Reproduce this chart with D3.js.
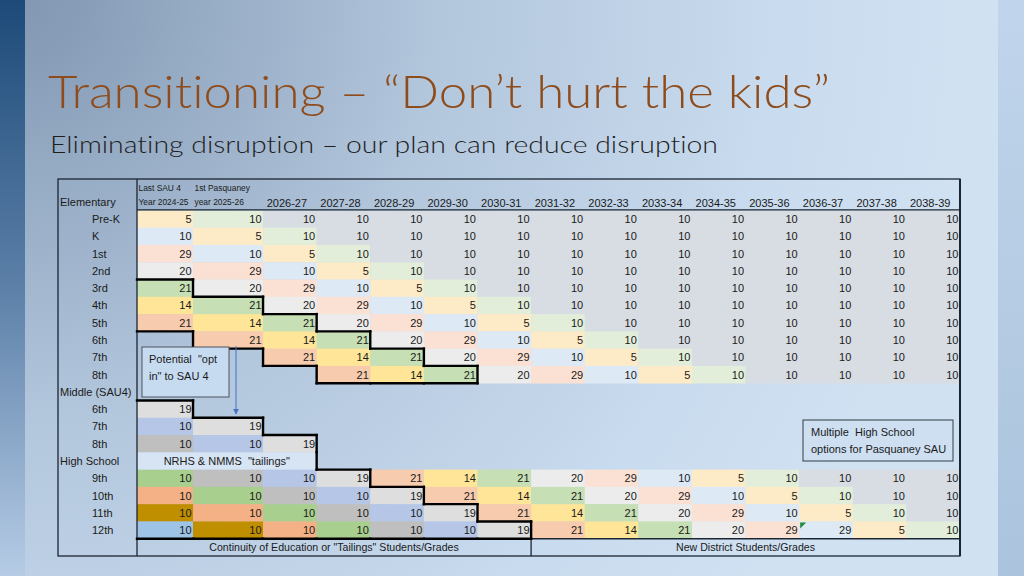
<!DOCTYPE html>
<html><head><meta charset="utf-8">
<script src="https://cdn.jsdelivr.net/npm/d3@7"></script>
<style>html,body{margin:0;padding:0;overflow:hidden;background:#c9dcef} text{font-variant-ligatures:none;font-feature-settings:"liga" 0,"clig" 0}</style>
</head><body>
<svg id="chart" width="1024" height="576"></svg>
<script>
// ---------- DATA ----------
const columns = ["2024-25","2025-26","2026-27","2027-28","2028-29","2029-30","2030-31","2031-32","2032-33","2033-34","2034-35","2035-36","2036-37","2037-38","2038-39"];
const firstHeaderTop = ["Last SAU 4","1st Pasquaney"];
const firstHeaderBottom = ["Year 2024-25","year 2025-26"];

const elementaryGrades = ["Pre-K","K","1st","2nd","3rd","4th","5th","6th","7th","8th"];
const elementaryValues = [
  [5,10,10,10,10,10,10,10,10,10,10,10,10,10,10],
  [10,5,10,10,10,10,10,10,10,10,10,10,10,10,10],
  [29,10,5,10,10,10,10,10,10,10,10,10,10,10,10],
  [20,29,10,5,10,10,10,10,10,10,10,10,10,10,10],
  [21,20,29,10,5,10,10,10,10,10,10,10,10,10,10],
  [14,21,20,29,10,5,10,10,10,10,10,10,10,10,10],
  [21,14,21,20,29,10,5,10,10,10,10,10,10,10,10],
  [null,21,14,21,20,29,10,5,10,10,10,10,10,10,10],
  [null,null,21,14,21,20,29,10,5,10,10,10,10,10,10],
  [null,null,null,21,14,21,20,29,10,5,10,10,10,10,10]
];
const middleGrades = ["6th","7th","8th"];
const middleValues = [
  [19],
  [10,19],
  [10,10,19]
];
const highGrades = ["9th","10th","11th","12th"];
const highValues = [
  [10,10,10,19,21,14,21,20,29,10,5,10,10,10,10],
  [10,10,10,10,19,21,14,21,20,29,10,5,10,10,10],
  [10,10,10,10,10,19,21,14,21,20,29,10,5,10,10],
  [10,10,10,10,10,10,19,21,14,21,20,29,29,5,10]
];
const sectionLabels = ["Elementary","Middle (SAU4)","High School"];
const tailingsLabel = "NRHS & NMMS  \"tailings\"";
const footerLabels = ["Continuity of Education or \"Tailings\" Students/Grades","New District Students/Grades"];
const noteOptIn = ["Potential  \"opt","in\" to SAU 4"];
const noteHigh = ["Multiple  High School","options for Pasquaney SAU"];
const titleText = "Transitioning \u2013 \u201cDon\u2019t hurt the kids\u201d";
const subtitleText = "Eliminating disruption \u2013 our plan can reduce disruption";

// ---------- STYLE ----------
const cohortColor = {
  "1":"#e2eed9","0":"#fdebc8","-1":"#dde9f5","-2":"#fbe1d4","-3":"#ececec",
  "-4":"#c6dfb4","-5":"#fee598","-6":"#f7cbad","-7":"#dedede","-8":"#b5c6e6",
  "-9":"#bfbfbf","-10":"#a9cf8e","-11":"#f3b185","-12":"#bf8f00","-13":"#9dc3e6"
};
const restColor = "#d8dde3";
const font = "'Liberation Sans', Arial, sans-serif";

const svg = d3.select("#chart");
const defs = svg.append("defs");

// background
const bg = defs.append("radialGradient").attr("id","bg").attr("gradientUnits","userSpaceOnUse")
  .attr("cx",20).attr("cy",0).attr("r",950);
bg.append("stop").attr("offset","0").attr("stop-color","#8197b2");
bg.append("stop").attr("offset","0.45").attr("stop-color","#b3c7dd");
bg.append("stop").attr("offset","0.8").attr("stop-color","#c9dbee");
bg.append("stop").attr("offset","1").attr("stop-color","#d0e1f2");
const ls = defs.append("linearGradient").attr("id","ls").attr("x1",0).attr("y1",0).attr("x2",0).attr("y2",1);
ls.append("stop").attr("offset","0").attr("stop-color","#1d4a79");
ls.append("stop").attr("offset","0.5").attr("stop-color","#5c80a8");
ls.append("stop").attr("offset","1").attr("stop-color","#b6cce6");
const rs = defs.append("linearGradient").attr("id","rs").attr("x1",0).attr("y1",0).attr("x2",0).attr("y2",1);
rs.append("stop").attr("offset","0").attr("stop-color","#c0d5eb");
rs.append("stop").attr("offset","1").attr("stop-color","#abc3dd");
svg.append("rect").attr("width",1024).attr("height",576).attr("fill","url(#bg)");
svg.append("rect").attr("width",25).attr("height",576).attr("fill","url(#ls)");
svg.append("rect").attr("x",998).attr("width",26).attr("height",576).attr("fill","url(#rs)");

// title
svg.append("text").attr("x",48).attr("y",108).text(titleText)
  .attr("font-family","Lato, 'Open Sans', sans-serif").attr("font-weight",300)
  .attr("font-size",46).attr("fill","#8e4c1c")
  .attr("textLength",782).attr("lengthAdjust","spacingAndGlyphs");
svg.append("text").attr("x",50).attr("y",153).text(subtitleText)
  .attr("font-family","Lato, 'Open Sans', sans-serif").attr("font-weight",300)
  .attr("font-size",24).attr("fill","#1e1e1e")
  .attr("textLength",668).attr("lengthAdjust","spacingAndGlyphs");

// ---------- SCALES ----------
const colWeights = columns.map((c,i)=> i===0 ? 1.045 : i===1 ? 1.306 : 1);
const cum = [0, ...d3.cumsum(colWeights)];
const xw = d3.scaleLinear().domain([0, cum[cum.length-1]]).range([137, 960]);
const colLeft = i => xw(cum[i]);
const colRight = i => xw(cum[i+1]);

const rowKeys = [
  ...elementaryGrades.map(g=>"E:"+g), "H:mid",
  ...middleGrades.map(g=>"M:"+g), "H:high",
  ...highGrades.map(g=>"S:"+g), "F:footer"
];
const y = d3.scaleBand().domain(rowKeys).range([210.4, 556]);
const tableTop = 179, tableLeft = 58, tableRight = 960, tableBottom = 556;

// ---------- CELLS ----------
const cells = [];
function addSection(prefix, grades, values, gradeOffset, section){
  grades.forEach((g,i)=>{
    const row = values[i];
    columns.forEach((col,c)=>{
      const v = row[c];
      if (v === null || v === undefined) return;
      const k = c - (gradeOffset + i);
      let fill = k >= 2 ? restColor : cohortColor[String(k)];
      cells.push({key:prefix+g, c, v, k, fill, section});
    });
  });
}
addSection("E:", elementaryGrades, elementaryValues, 0, "E");
addSection("M:", middleGrades, middleValues, 7, "M");
addSection("S:", highGrades, highValues, 10, "S");

const g = svg.append("g");
g.selectAll("rect.cell").data(cells).join("rect").attr("class","cell")
  .attr("x",d=>colLeft(d.c)).attr("y",d=>y(d.key))
  .attr("width",d=>colRight(d.c)-colLeft(d.c)+0.3).attr("height",y.bandwidth()+0.3)
  .attr("fill",d=>d.fill);

// tailings header cells (High School row)
[0,1,2].forEach(c=>{
  g.append("rect").attr("x",colLeft(c)).attr("y",y("H:high"))
   .attr("width",colRight(c)-colLeft(c)+0.3).attr("height",y.bandwidth()).attr("fill","#d6e4f3");
});

g.selectAll("text.val").data(cells).join("text").attr("class","val")
  .attr("x",d=>colRight(d.c)-1.5).attr("y",d=>y(d.key)+y.bandwidth()/2+4)
  .attr("text-anchor","end").attr("font-family",font).attr("font-size",11).attr("fill","#1a1a1a")
  .text(d=>d.v);

// green comment triangle (12th, 2036-37)
{
  const x0 = colLeft(12), y0 = y("S:12th");
  g.append("path").attr("d",`M${x0+1},${y0+1}L${x0+7},${y0+1}L${x0+1},${y0+7}Z`).attr("fill","#1e8a3c");
}

// ---------- TABLE LINES ----------
const lines = svg.append("g").attr("stroke","#1b2633").attr("fill","none");
lines.append("rect").attr("x",tableLeft).attr("y",tableTop).attr("width",tableRight-tableLeft).attr("height",tableBottom-tableTop).attr("stroke-width",1.3);
lines.append("line").attr("x1",137).attr("x2",137).attr("y1",tableTop).attr("y2",tableBottom).attr("stroke-width",1.3);
lines.append("line").attr("x1",137).attr("x2",tableRight).attr("y1",y(rowKeys[0])-0.5).attr("y2",y(rowKeys[0])-0.5).attr("stroke-width",1.1);
lines.append("line").attr("x1",137).attr("x2",tableRight).attr("y1",y("F:footer")).attr("y2",y("F:footer")).attr("stroke-width",1.6);
lines.append("line").attr("x1",colRight(6)).attr("x2",colRight(6)).attr("y1",y("F:footer")).attr("y2",tableBottom).attr("stroke-width",1.3);
lines.append("line").attr("x1",tableRight).attr("x2",tableRight).attr("y1",tableTop).attr("y2",tableBottom).attr("stroke-width",2);

// thick outlines around cohort groups
function outline(set){
  const segs = [];
  const has = (r,c)=> set.has(r+","+c);
  set.forEach(s=>{
    const [r,c] = s.split(",").map(Number);
    const x0 = colLeft(c), x1 = colRight(c), y0 = y(rowKeys[r]), y1 = y0 + y.bandwidth();
    if (!has(r-1,c)) segs.push([x0,y0,x1,y0]);
    if (!has(r+1,c)) segs.push([x0,y1,x1,y1]);
    if (!has(r,c+1)) segs.push([x1,y0,x1,y1]);
    if (!has(r,c-1) && c>0) segs.push([x0,y0,x0,y1]);
  });
  return segs;
}
const bandSet = new Set(cells.filter(d=>d.section==="E" && d.k<=-4 && d.k>=-6).map(d=>rowKeys.indexOf(d.key)+","+d.c));
const tailSet = new Set(cells.filter(d=>(d.section==="M"||d.section==="S") && d.k<=-7).map(d=>rowKeys.indexOf(d.key)+","+d.c));
[0,1,2].forEach(c=>tailSet.add(rowKeys.indexOf("H:high")+","+c));
const thick = svg.append("g").attr("stroke","#000").attr("stroke-width",2.4).attr("stroke-linecap","square");
[...outline(bandSet), ...outline(tailSet)].forEach(s=>{
  thick.append("line").attr("x1",s[0]).attr("y1",s[1]).attr("x2",s[2]).attr("y2",s[3]);
});

// ---------- NOTE BOXES (drawn before text) ----------
svg.append("rect").attr("x",142).attr("y",347).attr("width",87).attr("height",50)
  .attr("fill","#c7dbf0").attr("stroke","#4d5560").attr("stroke-width",1);
svg.append("rect").attr("x",803).attr("y",420).attr("width",150).attr("height",41)
  .attr("fill","#cddff1").attr("stroke","#333c46").attr("stroke-width",1);
defs.append("marker").attr("id","arr").attr("viewBox","0 0 10 10").attr("refX",9).attr("refY",5)
  .attr("markerWidth",6).attr("markerHeight",6).attr("orient","auto")
  .append("path").attr("d","M0,0L10,5L0,10Z").attr("fill","#4472c4");
svg.append("line").attr("x1",236).attr("x2",236).attr("y1",346).attr("y2",414)
  .attr("stroke","#4472c4").attr("stroke-width",1).attr("marker-end","url(#arr)");

// ---------- LABELS ----------
const lab = svg.append("g").attr("font-family",font).attr("fill","#1a1a1a");
lab.append("text").attr("x",60).attr("y",206).attr("font-size",11).text(sectionLabels[0]);
const rowLabel = (key,text,x)=> lab.append("text").attr("x",x).attr("y",y(key)+y.bandwidth()/2+4).attr("font-size",11).text(text);
elementaryGrades.forEach(gr=>rowLabel("E:"+gr,gr,92));
rowLabel("H:mid",sectionLabels[1],60);
middleGrades.forEach(gr=>rowLabel("M:"+gr,gr,92));
rowLabel("H:high",sectionLabels[2],60);
highGrades.forEach(gr=>rowLabel("S:"+gr,gr,92));

// column headers
firstHeaderTop.forEach((t,i)=>{
  lab.append("text").attr("x",colLeft(i)+1.5).attr("y",191).attr("font-size",8.4).text(t);
  lab.append("text").attr("x",colLeft(i)+1.5).attr("y",205).attr("font-size",8.4).text(firstHeaderBottom[i]);
});
columns.slice(2).forEach((t,j)=>{
  const c = j+2;
  lab.append("text").attr("x",(colLeft(c)+colRight(c))/2-3).attr("y",207).attr("text-anchor","middle").attr("font-size",11).text(t);
});

// tailings label
lab.append("text").attr("x",(colLeft(0)+colRight(2))/2).attr("y",y("H:high")+y.bandwidth()/2+4)
  .attr("text-anchor","middle").attr("font-size",11).attr("xml:space","preserve").text(tailingsLabel);

// footer
const fy = y("F:footer")+y.bandwidth()/2+4;
lab.append("text").attr("x",(colLeft(0)+colRight(6))/2).attr("y",fy).attr("text-anchor","middle").attr("font-size",10.6).text(footerLabels[0]);
lab.append("text").attr("x",(colRight(6)+tableRight)/2).attr("y",fy).attr("text-anchor","middle").attr("font-size",10.6).text(footerLabels[1]);

// note texts
noteOptIn.forEach((t,i)=>lab.append("text").attr("x",149).attr("y",363+i*17).attr("font-size",11).attr("xml:space","preserve").text(t));
noteHigh.forEach((t,i)=>lab.append("text").attr("x",811).attr("y",436+i*17).attr("font-size",11).attr("xml:space","preserve").text(t));
</script>
</body></html>
